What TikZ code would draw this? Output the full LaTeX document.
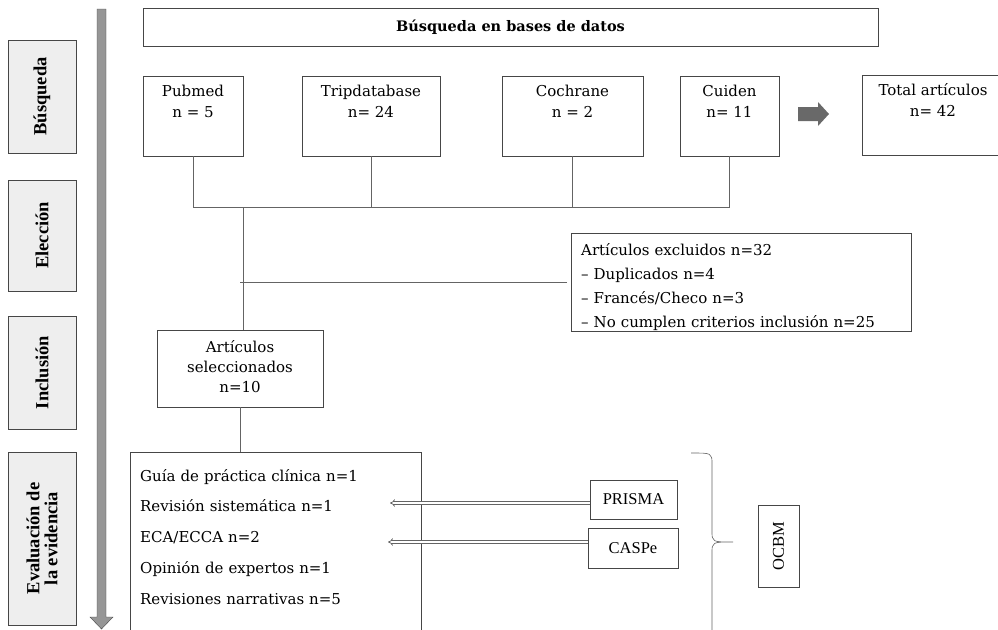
\documentclass[tikz,border=0pt]{standalone}
\usepackage{fontspec}
\setmainfont{DejaVu Serif}
\newfontfamily\timesfont{Liberation Serif}
\usetikzlibrary{arrows.meta, positioning}
\definecolor{framegray}{RGB}{70, 70, 70}
\definecolor{linegray}{RGB}{100, 100, 100}
\definecolor{labelfill}{RGB}{238, 238, 238}
\definecolor{arrowgray}{RGB}{150, 150, 150}
\definecolor{blockgray}{RGB}{105, 105, 105}

\begin{document}
\begin{tikzpicture}[x=1pt, y=-1pt,
            stage/.style={draw=framegray, fill=labelfill, rotate=90, minimum height=68pt, inner sep=0pt, align=center, font=\timesfont\bfseries\fontsize{18.5}{18}\selectfont},
            srcbox/.style={draw=framegray, align=center, anchor=north, inner ysep=3pt, text height=38pt, text depth=36pt, font=\fontsize{15}{21}\selectfont},
            listbox/.style={draw=framegray, align=left, anchor=north west, inner xsep=10pt, inner ysep=3pt},
            tool/.style={draw=framegray, inner sep=0pt, font=\timesfont\fontsize{16.5}{18}\selectfont},
            line/.style={draw=linegray, line width=0.6pt},
            dbl/.style={double=white, draw=linegray, double distance=1.8pt, line width=0.7pt, -{Implies}}
        ]
            \useasboundingbox (0,0) rectangle (998,629);

            \node[stage, minimum width=113pt] (busq) at (42,96.5) {Búsqueda};
            \node[stage, minimum width=111pt] (elec) at (42,235.5) {Elección};
            \node[stage, minimum width=113pt] (incl) at (42,372.5) {Inclusión};
            \node[stage, minimum width=173pt] (evalst) at (42,538.5) {Evaluación de\\la evidencia};
            \draw[draw=framegray, fill=arrowgray] (97,9) -- (106,9) -- (106,617) -- (113,617) -- (101.5,629) -- (90,617) -- (97,617) -- cycle;

            \node[draw=framegray, minimum width=735pt, minimum height=38pt, inner sep=0pt, font=\bfseries\fontsize{14.5}{16}\selectfont] (search) at (510.5,27) {Búsqueda en bases de datos};

            \node[srcbox, minimum width=100pt] (pubmed) at (193,76) {Pubmed\\n = 5};
            \node[srcbox, minimum width=138pt] (tripdb) at (371,76) {Tripdatabase\\n= 24};
            \node[srcbox, minimum width=141pt] (cochrane) at (572.5,76) {Cochrane\\n = 2};
            \node[srcbox, minimum width=99pt] (cuiden) at (729.5,76) {Cuiden\\n= 11};
            \node[srcbox, minimum width=142pt] (total) at (933,75) {Total artículos\\n= 42};
            \fill[blockgray] (798,107) -- (818,107) -- (818,102) -- (829,114) -- (818,126) -- (818,121) -- (798,121) -- cycle;

            \coordinate (bar) at (243,207);
            \draw[line] (pubmed.south) |- (cuiden.south |- bar) -- (cuiden.south);
            \draw[line] (tripdb.south) -- (tripdb.south |- bar);
            \draw[line] (cochrane.south) -- (cochrane.south |- bar);

            \node[listbox, text width=320pt, text height=19pt, text depth=73pt, font=\fontsize{15}{24}\selectfont] (excluded) at (571,233) {Artículos excluidos n=32\\– Duplicados n=4\\– Francés/Checo n=3\\– No cumplen criterios inclusión n=25};
            \node[srcbox, minimum width=166pt, text height=59pt, text depth=12pt, font=\fontsize{15}{20}\selectfont] (selected) at (240,330) {Artículos\\seleccionados\\n=10};
            \draw[line] (bar) -- (bar |- selected.north);
            \draw[line] ([xshift=-4pt]excluded.west) -- ([xshift=-3pt]bar |- excluded.west);

            \node[listbox, text width=271pt, text height=26pt, text depth=200pt, font=\fontsize{15}{30.7}\selectfont] (evidence) at (130,452) {Guía de práctica clínica n=1\\Revisión sistemática n=1\\ECA/ECCA n=2\\Opinión de expertos n=1\\Revisiones narrativas n=5};
            \draw[line] (selected.south) -- (selected.south |- evidence.north);

            \node[tool, minimum width=87pt, minimum height=39pt] (prisma) at (633.5,499.5) {PRISMA};
            \node[tool, minimum width=90pt, minimum height=40pt] (caspe) at (633,548) {CASPe};
            \coordinate (prismatip) at (390,503);
            \coordinate (caspetip) at (388,542);
            \draw[dbl] (prisma.west |- prismatip) -- (prismatip);
            \draw[dbl] (caspe.west |- caspetip) -- (caspetip);

            \draw[line] (691,453) .. controls (712,453) .. (712,464) -- (712,531) .. controls (712,542) .. (733,542) .. controls (712,542) .. (712,553) -- (712,640);
            \node[tool, rotate=90, minimum width=82pt, minimum height=41pt] (ocbm) at (778.5,546) {OCBM};
        \end{tikzpicture}
\end{document}
